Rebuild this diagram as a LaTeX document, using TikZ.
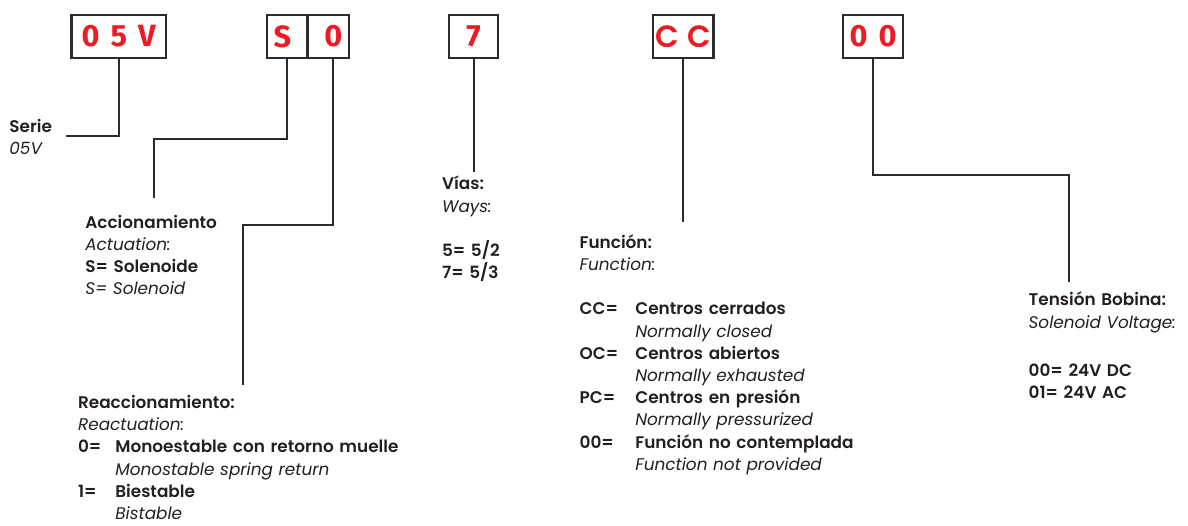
\documentclass[tikz,border=0pt]{standalone}
\usepackage{fontspec}
\setmainfont{Poppins}[BoldFont={Poppins SemiBold}]
\newfontfamily\codefont{Fira Sans}
\usepackage{tikz}
\usetikzlibrary{positioning,calc}

\definecolor{codered}{HTML}{ED1C24}
\definecolor{ink}{HTML}{231F20}
\definecolor{frame}{HTML}{2B2B2B}

\begin{document}
\begin{tikzpicture}[
  x=0.02cm, y=-0.02cm,
  codebox/.style={draw=frame, line width=1.4pt, minimum height=0.854cm, inner sep=0pt,
                  anchor=north west, text=codered,
                  font=\codefont\bfseries\fontsize{17.5}{17.5}\selectfont},
  lbl/.style={anchor=base west, inner sep=0pt, text width=7cm, align=left, text=ink,
              font=\fontsize{9.6}{12.64}\selectfont},
  wire/.style={draw=frame, line width=1.1pt}
]
\useasboundingbox (0,0) rectangle (1188,526);

% code boxes
\node[codebox, minimum width=1.888cm] (b05) at (70.3,14)  {0\hspace{0.22cm}5\hspace{0.22cm}V};
\node[codebox, minimum width=0.806cm] (bS)  at (266,14)   {S\hspace*{0.2cm}};
\node[codebox, minimum width=0.834cm] (b0)  at (306.3,14) {\hspace*{0.2cm}0};
\node[codebox, minimum width=0.974cm] (b7)  at (448,14)   {7};
\node[codebox, minimum width=1.206cm, font=\bfseries\fontsize{17.5}{17.5}\selectfont] (bCC) at (652,14) {C\hspace{0.18cm}C};
\node[codebox, minimum width=1.194cm] (b00) at (842,14)   {0\hspace{0.22cm}0};

% descriptions
\node[lbl] (serie) at (9,132.3) {\textbf{Serie}\\ \textit{05V}};
\node[lbl] (acc) at (85,228.3) {\textbf{Accionamiento}\\ \textit{Actuation:}\\
  \textbf{S= Solenoide}\\ \textit{S= Solenoid}};
\node[lbl] (rea) at (77.7,408.5) {\textbf{Reaccionamiento:}\\ \textit{Reactuation:}\\
  \makebox[0.746cm][l]{\textbf{0=}}\textbf{Monoestable con retorno muelle}\\
  \hspace*{0.746cm}\textit{Monostable spring return}\\
  \makebox[0.746cm][l]{\textbf{1=}}\textbf{Biestable}\\
  \hspace*{0.746cm}\textit{Bistable}};
\node[lbl] (vias) at (441.7,190) {\textbf{Vías:}\\ \textit{Ways:}\\[\baselineskip]
  \textbf{5= 5/2}\\ \textbf{7= 5/3}};
\node[lbl] (fun) at (579.3,248.3) {\textbf{Función:}\\ \textit{Function:}\\[\baselineskip]
  \makebox[1.114cm][l]{\textbf{CC=}}\textbf{Centros cerrados}\\
  \hspace*{1.114cm}\textit{Normally closed}\\
  \makebox[1.114cm][l]{\textbf{OC=}}\textbf{Centros abiertos}\\
  \hspace*{1.114cm}\textit{Normally exhausted}\\
  \makebox[1.114cm][l]{\textbf{PC=}}\textbf{Centros en presión}\\
  \hspace*{1.114cm}\textit{Normally pressurized}\\
  \makebox[1.114cm][l]{\textbf{00=}}\textbf{Función no contemplada}\\
  \hspace*{1.114cm}\textit{Function not provided}};
\node[lbl] (ten) at (1028.3,306) {\textbf{Tensión Bobina:}\\ \textit{Solenoid Voltage:}\\[15pt]
  \textbf{00= 24V DC}\\ \textbf{01= 24V AC}};

% connectors
\coordinate (serieEnd) at (66.3,136.3);
\coordinate (accTop) at (154,198);
\coordinate (reaTop) at (242.7,385);
\coordinate (viasTop) at (472.7,171.7);
\coordinate (funTop) at (682.3,221.7);
\coordinate (tenTop) at (1069.3,282.3);

\draw[wire] (b05.south) |- (serieEnd);
\draw[wire] (bS.south) -- ++(0,80) -| (accTop);
\draw[wire] ([xshift=0.1cm]b0.south) -- ++(0,166) -| (reaTop);
\draw[wire] (b7.south) -- (b7.south |- viasTop);
\draw[wire] (bCC.south) -- (bCC.south |- funTop);
\draw[wire] (b00.south) -- ++(0,115.6) -| (tenTop);
\end{tikzpicture}
\end{document}
